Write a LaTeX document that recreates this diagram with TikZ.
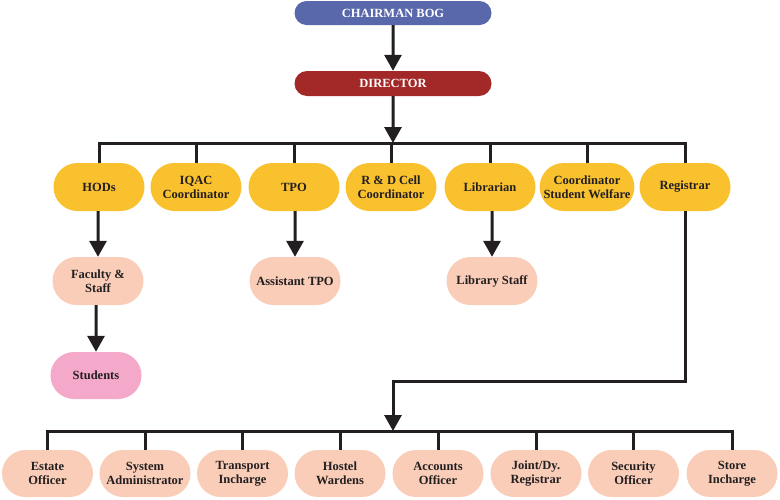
\documentclass[tikz,border=0pt]{standalone}
\usepackage{fontspec}
\setmainfont{Liberation Serif}
\definecolor{chairfill}{RGB}{88, 104, 170}
\definecolor{dirfill}{RGB}{163, 40, 40}
\definecolor{headfill}{RGB}{249, 193, 46}
\definecolor{stafffill}{RGB}{249, 205, 184}
\definecolor{studfill}{RGB}{244, 168, 202}
\definecolor{boxtext}{RGB}{35, 31, 32}
\usetikzlibrary{shapes.misc, arrows.meta, calc}
\tikzset{
    box/.style={rounded rectangle, inner sep=1pt, minimum width=93pt,
        minimum height=48pt, align=center, text=boxtext,
        font=\bfseries\fontsize{12.5}{14}\selectfont},
    topbox/.style={box, minimum width=199pt, minimum height=24pt, text=white},
    link/.style={line width=3pt, boxtext},
    arrowlink/.style={link, -{Triangle[width=17pt, length=16pt]}},
}

\begin{document}
\begin{tikzpicture}[x=1pt, y=-1pt]
    \useasboundingbox (0, 0) rectangle (780, 499);
    \node[topbox, fill=chairfill] (chair) at (393, 13) {CHAIRMAN BOG};
    \node[topbox, fill=dirfill, minimum height=25pt] (dir) at (393, 83.5)
        {DIRECTOR};
    \coordinate (bus) at (393, 143);
    \coordinate (bbus) at (393, 431);
    \draw[arrowlink] (chair) -- (dir);
    \draw[arrowlink] (dir) -- (bus);
    % heads under the director
    \foreach \name/\x/\txt in {hod/99/HODs, iqac/196/{IQAC\\Coordinator},
        tpo/294/TPO, rnd/391/{R \& D Cell\\Coordinator}, lib/490/Librarian,
        csw/587/{Coordinator\\Student Welfare}, reg/685/Registrar} {
        \node[box, fill=headfill] (\name) at (\x, 187) {\txt};
    }
    \draw[link] (hod.north) -- (hod.north |- bus) -- (reg.north |- bus)
        -- (reg.north);
    \foreach \name in {iqac, tpo, rnd, lib, csw}
        \draw[link] (\name.north) -- (\name.north |- bus);
    % staff below the heads
    \node[box, fill=stafffill] (fac) at (98, 281) {Faculty \&\\Staff};
    \node[box, fill=studfill, minimum height=47pt] (stud) at (96, 375.5)
        {Students};
    \node[box, fill=stafffill] (atpo) at (295, 281) {Assistant TPO};
    \node[box, fill=stafffill] (lstaff) at (492, 281) {Library Staff};
    \draw[arrowlink] (hod.south -| fac) -- (fac);
    \draw[arrowlink] (fac.south -| stud) -- (stud);
    \draw[arrowlink] (tpo.south -| atpo) -- (atpo);
    \draw[arrowlink] (lib.south -| lstaff) -- (lstaff);
    % offices under the registrar
    \foreach \name/\x/\txt in {estate/47.5/{Estate\\Officer},
        sysad/145/{System\\Administrator}, trans/242.5/{Transport\\Incharge},
        hostel/340/{Hostel\\Wardens}, acct/438/{Accounts\\Officer},
        joint/536/{Joint/Dy.\\Registrar}, secur/633.5/{Security\\Officer},
        store/732/{Store\\Incharge}} {
        \node[box, fill=stafffill, minimum height=47pt] (\name) at (\x, 473.5)
            {\txt};
    }
    \draw[arrowlink] (reg.south) -- (reg.south |- 0, 381) -- (393, 381)
        -- (bbus);
    \draw[link] (estate.north) -- (estate.north |- bbus)
        -- (store.north |- bbus) -- (store.north);
    \foreach \name in {sysad, trans, hostel, acct, joint, secur}
        \draw[link] (\name.north) -- (\name.north |- bbus);
\end{tikzpicture}
\end{document}
